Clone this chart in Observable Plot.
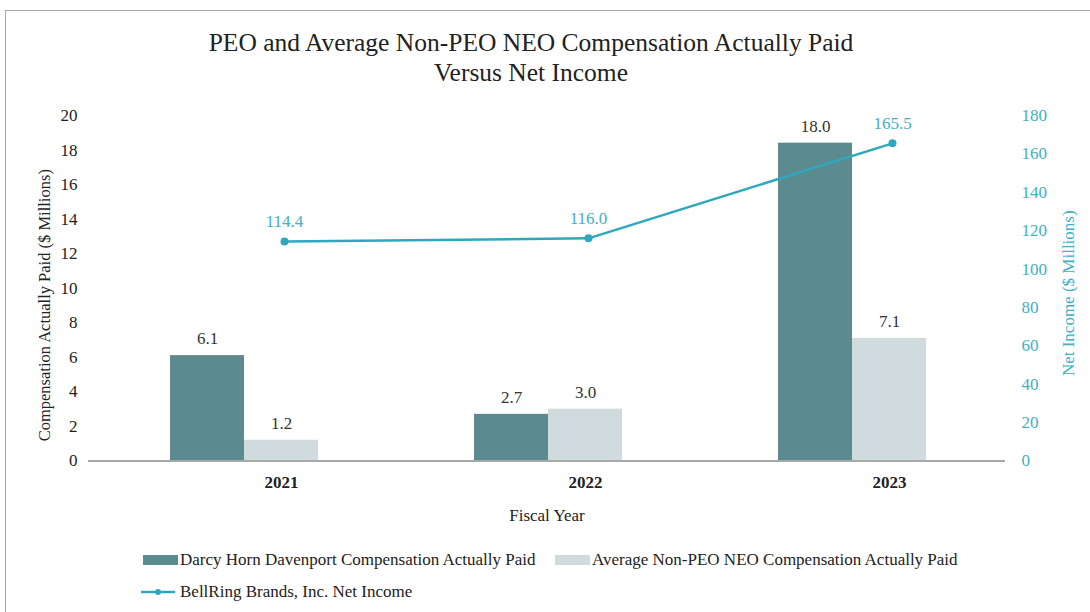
<!DOCTYPE html>
<html>
<head>
<meta charset="utf-8">
<script src="https://cdn.jsdelivr.net/npm/d3@7"></script>
<script src="https://cdn.jsdelivr.net/npm/@observablehq/plot@0.6"></script>
<style>
  html, body { margin: 0; padding: 0; width: 1090px; height: 612px; overflow: hidden; background: #fff; }
  body { position: relative; font-family: "Liberation Serif", serif; color: #222; }
  #frame { position: absolute; left: 5px; top: 10px; width: 2000px; height: 2000px; border-left: 1.5px solid #a6a6a6; border-top: 1.5px solid #a6a6a6; }
  #title { position: absolute; left: 0; width: 1062px; top: 28px; text-align: center; font-size: 25.5px; line-height: 30px; color: #222; }
  #chart { position: absolute; left: 0; top: 95px; }
  .leg { position: absolute; display: flex; align-items: center; font-size: 17px; color: #222; white-space: nowrap; }
  .sw { display: inline-block; width: 35px; height: 10px; margin-right: 2px; }
</style>
</head>
<body>
<div id="frame"></div>
<div id="title">PEO and Average Non-PEO NEO Compensation Actually Paid<br>Versus Net Income</div>
<div id="chart"></div>
<div class="leg" style="left:143px; top:550px;"><span class="sw" style="background:#5b8a8f"></span>Darcy Horn Davenport Compensation Actually Paid</div>
<div class="leg" style="left:555px; top:550px;"><span class="sw" style="background:#cfdbdc"></span>Average Non-PEO NEO Compensation Actually Paid</div>
<div class="leg" style="left:141px; top:582px;"><svg width="34" height="10" style="margin-right:5px"><line x1="0" y1="5" x2="34" y2="5" stroke="#2fa8be" stroke-width="2.5"/><circle cx="17" cy="5" r="3" fill="#2fa8be"/></svg>BellRing Brands, Inc. Net Income</div>
<script>
const years = ["2021", "2022", "2023"];
const peoCAP = [6.1, 2.7, 18.4];
const peoLabels = ["6.1", "2.7", "18.0"];
const neoCAP = [1.2, 3.0, 7.1];
const netIncome = [114.4, 116.0, 165.5];
const leftTicks = [0, 2, 4, 6, 8, 10, 12, 14, 16, 18, 20];
const rightTicks = [0, 20, 40, 60, 80, 100, 120, 140, 160, 180];
const ratio = 9; // right axis (180) maps onto left axis (20)

const data = years.map((y, i) => ({year: y, peo: peoCAP[i], peoLabel: peoLabels[i], neo: neoCAP[i], ni: netIncome[i]}));

const teal = "#2fa8be";
const tealText = "#40b0c6";

const chart = Plot.plot({
  width: 1090,
  height: 440,
  marginLeft: 88,
  marginRight: 85,
  marginTop: 20,
  marginBottom: 74.5,
  style: {fontFamily: "Liberation Serif", fontSize: "17px", color: "#222", background: "transparent", overflow: "visible"},
  x: {type: "band", domain: years, paddingInner: 0.757, paddingOuter: 0.3865, align: 0.506, axis: null},
  y: {domain: [0, 20], axis: null},
  marks: [
    Plot.barY(data, {x: "year", y: "peo", fill: "#5b8a8f", dx: -37}),
    Plot.barY(data, {x: "year", y: "neo", fill: "#cfdbdc", dx: 37}),
    Plot.ruleY([0], {stroke: "#a8a8a8", strokeWidth: 2}),
    Plot.axisY({anchor: "left", ticks: leftTicks, tickSize: 0, tickPadding: 11, label: null, fontSize: 17, fill: "#222"}),
    Plot.axisY({anchor: "right", ticks: rightTicks.map(d => d / ratio), tickFormat: d => Math.round(d * ratio), tickSize: 0, tickPadding: 16, label: null, fontSize: 17, fill: tealText}),
    Plot.axisX({ticks: years, tickSize: 0, tickPadding: 15, label: null, dx: 37, fontWeight: "bold", fontSize: 17, fill: "#222"}),
    Plot.text(data, {x: "year", y: "peo", text: "peoLabel", dx: -37, dy: -17, fontSize: 17, fill: "#333"}),
    Plot.text(data, {x: "year", y: "neo", text: d => d.neo.toFixed(1), dx: 37, dy: -17, fontSize: 17, fill: "#333"}),
    Plot.line(data, {x: "year", y: d => d.ni / ratio, stroke: teal, strokeWidth: 2.5, dx: 40}),
    Plot.dot(data, {x: "year", y: d => d.ni / ratio, r: 4, fill: teal, dx: 40}),
    Plot.text(data, {x: "year", y: d => d.ni / ratio, text: d => d.ni.toFixed(1), dx: 40, dy: -20, fontSize: 17, fill: tealText}),
    Plot.text(["Compensation Actually Paid ($ Millions)"], {frameAnchor: "left", textAnchor: "middle", lineAnchor: "middle", rotate: -90, dx: -44, dy: 17, fontSize: 16.5, fill: "#222"}),
    Plot.text(["Net Income ($ Millions)"], {frameAnchor: "right", textAnchor: "middle", lineAnchor: "middle", rotate: -90, dx: 63, dy: 5, fontSize: 17, fill: tealText}),
    Plot.text(["Fiscal Year"], {frameAnchor: "bottom", lineAnchor: "middle", dy: 55, fontSize: 17, fill: "#222"})
  ]
});
document.getElementById("chart").appendChild(chart);
</script>
</body>
</html>
